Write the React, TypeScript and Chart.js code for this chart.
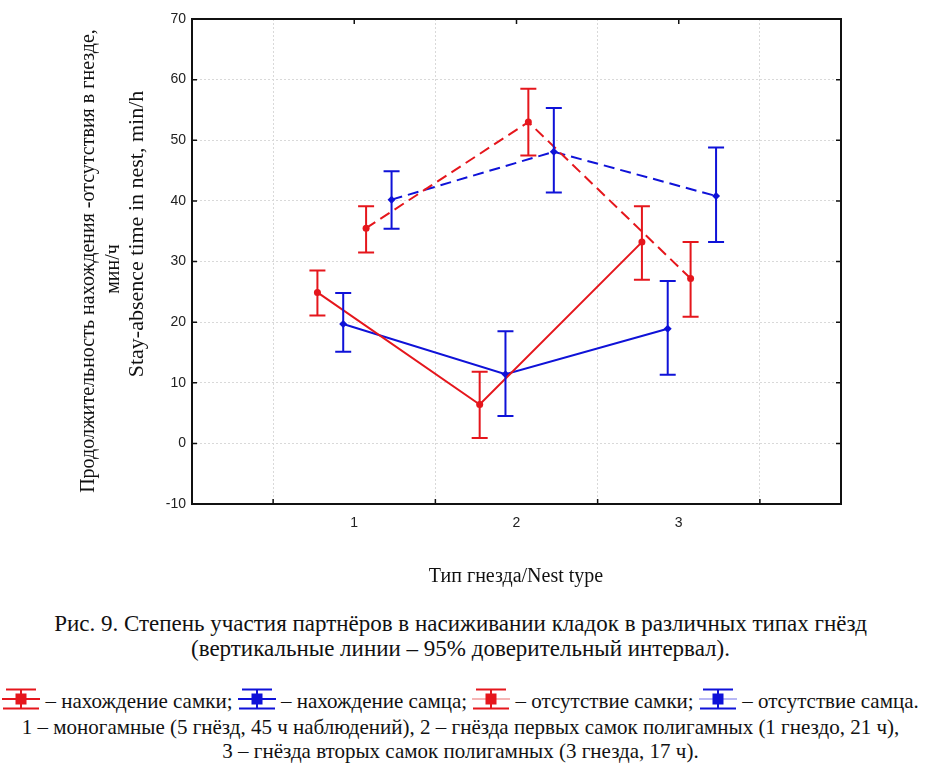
import React, { useEffect, useRef } from "react";
import { Chart, registerables } from "chart.js";

Chart.register(...registerables);

// ---- data ----
const nestTypes = [1, 2, 3];
const xTickLabels = ["1", "2", "3"];
const yMin = -10;
const yMax = 70;
const yStep = 10;

const femalePresence = [24.9, 6.4, 33.2];
const femalePresenceLow = [21.1, 0.9, 27.0];
const femalePresenceHigh = [28.5, 11.8, 39.1];

const malePresence = [19.7, 11.4, 18.9];
const malePresenceLow = [15.1, 4.5, 11.3];
const malePresenceHigh = [24.8, 18.5, 26.8];

const femaleAbsence = [35.5, 53.0, 27.2];
const femaleAbsenceLow = [31.5, 47.5, 20.9];
const femaleAbsenceHigh = [39.1, 58.5, 33.2];

const maleAbsence = [40.2, 48.1, 40.8];
const maleAbsenceLow = [35.4, 41.4, 33.2];
const maleAbsenceHigh = [44.9, 55.3, 48.8];

const yTitleLines = [
  "Продолжительность нахождения -отсутствия в гнезде,",
  "мин/ч",
  "Stay-absence time in nest, min/h",
];
const xTitle = "Тип гнезда/Nest type";

// ---- styles ----
const RED = "#e5161c";
const BLUE = "#0f12d8";
const RED_LIGHT = "#f5b5b5";
const BLUE_LIGHT = "#b8b8f5";

type Series = {
  values: number[];
  low: number[];
  high: number[];
  offset: number;
  color: string;
  dashed: boolean;
  pointStyle: string;
  radius: number;
};

const series: Series[] = [
  { values: femalePresence, low: femalePresenceLow, high: femalePresenceHigh, offset: -0.227, color: RED, dashed: false, pointStyle: "circle", radius: 3.5 },
  { values: malePresence, low: malePresenceLow, high: malePresenceHigh, offset: -0.068, color: BLUE, dashed: false, pointStyle: "rectRot", radius: 4 },
  { values: femaleAbsence, low: femaleAbsenceLow, high: femaleAbsenceHigh, offset: 0.073, color: RED, dashed: true, pointStyle: "circle", radius: 3.5 },
  { values: maleAbsence, low: maleAbsenceLow, high: maleAbsenceHigh, offset: 0.23, color: BLUE, dashed: true, pointStyle: "rectRot", radius: 4 },
];

const decorPlugin = {
  id: "decor",
  afterDatasetsDraw(chart: any) {
    const { ctx, scales } = chart;
    const xs = scales.x;
    const ys = scales.y;
    ctx.save();
    series.forEach((s) => {
      ctx.strokeStyle = s.color;
      ctx.lineWidth = 2;
      ctx.setLineDash([]);
      nestTypes.forEach((n, i) => {
        const x = xs.getPixelForValue(n + s.offset);
        const yt = ys.getPixelForValue(s.high[i]);
        const yb = ys.getPixelForValue(s.low[i]);
        const hw = 8;
        ctx.beginPath();
        ctx.moveTo(x, yt);
        ctx.lineTo(x, yb);
        ctx.moveTo(x - hw, yt);
        ctx.lineTo(x + hw, yt);
        ctx.moveTo(x - hw, yb);
        ctx.lineTo(x + hw, yb);
        ctx.stroke();
      });
    });
    ctx.restore();
  },
  afterDraw(chart: any) {
    const { ctx, chartArea, scales } = chart;
    const { left, right, top, bottom } = chartArea;
    const xs = scales.x;
    const ys = scales.y;
    ctx.save();
    // frame
    ctx.strokeStyle = "#111";
    ctx.lineWidth = 2;
    ctx.setLineDash([]);
    ctx.strokeRect(left, top, right - left, bottom - top);
    // inward ticks
    ctx.lineWidth = 1.5;
    ctx.beginPath();
    nestTypes.forEach((n) => {
      const x = xs.getPixelForValue(n);
      ctx.moveTo(x, top);
      ctx.lineTo(x, top + 5);
    });
    [0.5, 1.5, 2.5, 3.5].forEach((v) => {
      const x = xs.getPixelForValue(v);
      ctx.moveTo(x, bottom);
      ctx.lineTo(x, bottom - 5);
    });
    for (let v = yMin + yStep; v < yMax; v += yStep) {
      const y = ys.getPixelForValue(v);
      ctx.moveTo(left, y);
      ctx.lineTo(left + 5, y);
      ctx.moveTo(right, y);
      ctx.lineTo(right - 5, y);
    }
    ctx.stroke();

    // axis titles
    ctx.fillStyle = "#111";
    ctx.textAlign = "center";
    ctx.textBaseline = "middle";
    const yTitleStyle = [
      { x: 89, y: 261, size: 20 },
      { x: 114, y: 269, size: 20 },
      { x: 137, y: 234, size: 22 },
    ];
    yTitleLines.forEach((t, i) => {
      const st = yTitleStyle[i];
      ctx.save();
      ctx.font = `${st.size}px "Liberation Serif"`;
      ctx.translate(st.x, st.y);
      ctx.rotate(-Math.PI / 2);
      ctx.fillText(t, 0, 0);
      ctx.restore();
    });
    ctx.font = '20px "Liberation Serif"';
    ctx.fillText(xTitle, 516, 577);
    ctx.restore();
  },
};

function Icon({ color, light }: { color: string; light?: string }) {
  return (
    <svg width={38} height={22} style={{ verticalAlign: "-2px" }}>
      <line x1={0} y1={11} x2={38} y2={11} stroke={light || color} strokeWidth={2} />
      <line x1={4} y1={1.5} x2={34} y2={1.5} stroke={color} strokeWidth={2} />
      <line x1={1} y1={20.5} x2={37} y2={20.5} stroke={color} strokeWidth={2} />
      <line x1={19} y1={1.5} x2={19} y2={20.5} stroke={color} strokeWidth={2} />
      <rect x={13.5} y={5.5} width={11} height={11} fill={color} />
    </svg>
  );
}

export default function App() {
  const canvasRef = useRef<HTMLCanvasElement | null>(null);

  useEffect(() => {
    if (!canvasRef.current) return;
    const gridColor = "#d9d9d9";
    const chart = new Chart(canvasRef.current, {
      type: "line",
      data: {
        datasets: series.map((s) => ({
          data: nestTypes.map((n, i) => ({ x: n + s.offset, y: s.values[i] })),
          borderColor: s.color,
          backgroundColor: s.color,
          borderWidth: 2,
          borderDash: s.dashed ? [11, 6] : [],
          pointStyle: s.pointStyle as any,
          pointRadius: s.radius,
          pointBorderWidth: 0,
          fill: false,
          tension: 0,
        })),
      },
      options: {
        responsive: false,
        animation: false,
        events: [],
        layout: { padding: { top: 19, right: 90, bottom: 66, left: 0 } },
        plugins: {
          legend: { display: false },
          tooltip: { enabled: false },
          title: { display: false },
        },
        scales: {
          x: {
            type: "linear",
            min: 0,
            max: 4,
            ticks: {
              stepSize: 0.5,
              autoSkip: false,
              maxRotation: 0,
              padding: 11,
              color: "#222",
              font: { family: '"Liberation Sans", Arial, sans-serif', size: 14 },
              callback: (v: any) => {
                const idx = nestTypes.indexOf(Number(v));
                return idx >= 0 ? xTickLabels[idx] : "";
              },
            },
            grid: {
              drawTicks: false,
              lineWidth: 1,
              color: (c: any) =>
                c.tick && c.tick.value % 1 !== 0 ? gridColor : "rgba(0,0,0,0)",
            },
            border: { display: false, dash: [2, 2] },
            afterFit: (s: any) => {
              s.height = 30;
            },
          },
          y: {
            min: yMin,
            max: yMax,
            ticks: {
              stepSize: yStep,
              padding: 6,
              color: "#222",
              font: { family: '"Liberation Sans", Arial, sans-serif', size: 14 },
            },
            grid: {
              drawTicks: false,
              lineWidth: 1,
              color: (c: any) =>
                c.tick && c.tick.value > yMin && c.tick.value < yMax ? gridColor : "rgba(0,0,0,0)",
            },
            border: { display: false, dash: [2, 2] },
            afterFit: (s: any) => {
              s.width = 192;
            },
          },
        },
      },
      plugins: [decorPlugin],
    });
    return () => chart.destroy();
  }, []);

  const cap: React.CSSProperties = {
    position: "absolute",
    left: -5,
    width: 931,
    textAlign: "center",
    fontFamily: '"Liberation Serif", serif',
    fontSize: 21,
    lineHeight: "21px",
    color: "#111",
    whiteSpace: "nowrap",
  };
  const capBig: React.CSSProperties = { ...cap, fontSize: 23, lineHeight: "23px" };

  return (
    <div style={{ position: "absolute", left: 0, top: 0, width: 931, height: 768, background: "#fff", overflow: "hidden" }}>
      <canvas ref={canvasRef} width={931} height={600} style={{ display: "block" }} />
      <div style={{ ...capBig, top: 612 }}>
        Рис. 9. Степень участия партнёров в насиживании кладок в различных типах гнёзд
      </div>
      <div style={{ ...capBig, top: 637 }}>
        (вертикальные линии – 95% доверительный интервал).
      </div>
      <div style={{ ...cap, top: 688 }}>
        <Icon color={RED} /> – нахождение самки; <Icon color={BLUE} /> – нахождение самца;{" "}
        <Icon color={RED} light={RED_LIGHT} /> – отсутствие самки; <Icon color={BLUE} light={BLUE_LIGHT} /> – отсутствие самца.
      </div>
      <div style={{ ...cap, top: 717 }}>
        1 – моногамные (5 гнёзд, 45 ч наблюдений), 2 – гнёзда первых самок полигамных (1 гнездо, 21 ч),
      </div>
      <div style={{ ...cap, top: 741 }}>
        3 – гнёзда вторых самок полигамных (3 гнезда, 17 ч).
      </div>
    </div>
  );
}
